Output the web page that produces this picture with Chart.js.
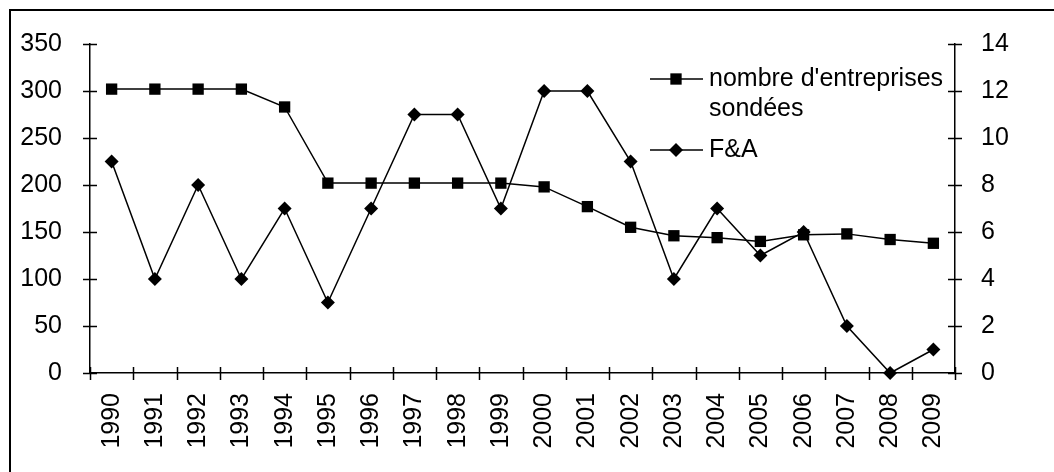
<!DOCTYPE html>
<html>
<head>
<meta charset="utf-8">
<script src="https://cdn.jsdelivr.net/npm/chart.js@4"></script>
<style>
  html, body { margin: 0; padding: 0; background: #fff; }
  #wrap { width: 1054px; height: 472px; position: relative; }
</style>
</head>
<body>
<div id="wrap"><canvas id="c" width="1054" height="472"></canvas></div>
<script>
const categories = ['1990','1991','1992','1993','1994','1995','1996','1997','1998','1999',
                    '2000','2001','2002','2003','2004','2005','2006','2007','2008','2009'];
const entreprises = [302, 302, 302, 302, 283, 202, 202, 202, 202, 202,
                     198, 177, 155, 146, 144, 140, 147, 148, 142, 138];
const fa = [9, 4, 8, 4, 7, 3, 7, 11, 11, 7,
            12, 12, 9, 4, 7, 5, 6, 2, 0, 1];
const legendLines = [["nombre d'entreprises", "sondées"], ["F&A"]];
const leftTicks = [0, 50, 100, 150, 200, 250, 300, 350];
const rightTicks = [0, 2, 4, 6, 8, 10, 12, 14];

const FONT = '"Liberation Sans", Arial, sans-serif';
const FS = 25;

const decor = {
  id: 'decor',
  beforeDraw(chart) {
    const ctx = chart.ctx;
    ctx.save();
    ctx.fillStyle = '#fff';
    ctx.fillRect(0, 0, chart.width, chart.height);
    ctx.strokeStyle = '#000';
    ctx.lineWidth = 2;
    ctx.strokeRect(10, 10, chart.width + 20, chart.height + 20);
    ctx.restore();
  },
  afterDraw(chart) {
    const ctx = chart.ctx;
    const x = chart.scales.x, y = chart.scales.y, y1 = chart.scales.y1;
    const ca = chart.chartArea;
    ctx.save();
    ctx.strokeStyle = '#000';
    ctx.lineWidth = 1.5;
    ctx.beginPath();
    y.ticks.forEach((t, i) => {
      const py = Math.round(y.getPixelForTick(i)) + 0.5;
      ctx.moveTo(ca.left - 7, py); ctx.lineTo(ca.left + 7, py);
    });
    y1.ticks.forEach((t, i) => {
      const py = Math.round(y1.getPixelForTick(i)) + 0.5;
      ctx.moveTo(ca.right - 7, py); ctx.lineTo(ca.right + 7, py);
    });
    for (let i = 0; i <= categories.length; i++) {
      const px = Math.round(x.getPixelForValue(i - 0.5)) + 0.5;
      ctx.moveTo(px, ca.bottom - 6); ctx.lineTo(px, ca.bottom + 7);
    }
    ctx.stroke();

    // legend
    ctx.font = FS + 'px ' + FONT;
    ctx.fillStyle = '#000';
    ctx.textBaseline = 'middle';
    ctx.textAlign = 'left';
    const rows = [79, 150];
    chart.data.datasets.forEach((ds, i) => {
      const ry = rows[i];
      ctx.beginPath();
      ctx.lineWidth = 1.5;
      ctx.moveTo(650, ry); ctx.lineTo(703, ry);
      ctx.stroke();
      const r = ds.pointRadius;
      if (ds.pointStyle === 'rect') {
        const s = Math.SQRT1_2 * r;
        ctx.fillRect(676 - s, ry - s, 2 * s, 2 * s);
      } else {
        ctx.beginPath();
        ctx.moveTo(676 - r, ry); ctx.lineTo(676, ry - r);
        ctx.lineTo(676 + r, ry); ctx.lineTo(676, ry + r);
        ctx.closePath(); ctx.fill();
      }
      legendLines[i].forEach((ln, j) => {
        ctx.fillText(ln, 709, ry + j * 30);
      });
    });
    ctx.restore();
  }
};

new Chart(document.getElementById('c'), {
  type: 'line',
  data: {
    labels: categories,
    datasets: [
      {
        label: legendLines[0].join(' '),
        data: entreprises,
        yAxisID: 'y',
        borderColor: '#000',
        backgroundColor: '#000',
        borderWidth: 1.5,
        pointStyle: 'rect',
        pointRadius: 8,
        pointBorderWidth: 0,
        tension: 0
      },
      {
        label: legendLines[1].join(' '),
        data: fa,
        yAxisID: 'y1',
        borderColor: '#000',
        backgroundColor: '#000',
        borderWidth: 1.5,
        pointStyle: 'rectRot',
        pointRadius: 7,
        pointBorderWidth: 0,
        tension: 0
      }
    ]
  },
  options: {
    responsive: false,
    animation: false,
    devicePixelRatio: 1,
    layout: { padding: { top: 44, left: 0, right: 0, bottom: 0 } },
    plugins: { legend: { display: false }, tooltip: { enabled: false } },
    clip: false,
    scales: {
      x: {
        type: 'category',
        offset: true,
        grid: { display: false },
        border: { display: true, color: '#000', width: 1.5 },
        ticks: {
          color: '#000', font: { family: FONT, size: FS },
          minRotation: 90, maxRotation: 90, padding: 12, autoSkip: false
        },
        afterFit(s) { s.height = 99; }
      },
      y: {
        position: 'left',
        min: 0, max: 350,
        afterBuildTicks(s) { s.ticks = leftTicks.map(v => ({ value: v })); },
        grid: { display: false },
        border: { display: true, color: '#000', width: 1.5 },
        ticks: { color: '#000', font: { family: FONT, size: FS }, padding: 20 },
        afterFit(s) { s.width = 90; }
      },
      y1: {
        position: 'right',
        min: 0, max: 14,
        afterBuildTicks(s) { s.ticks = rightTicks.map(v => ({ value: v })); },
        grid: { display: false },
        border: { display: true, color: '#000', width: 1.5 },
        ticks: { color: '#000', font: { family: FONT, size: FS }, padding: 18 },
        afterFit(s) { s.width = 99; }
      }
    }
  },
  plugins: [decor]
});
</script>
</body>
</html>
